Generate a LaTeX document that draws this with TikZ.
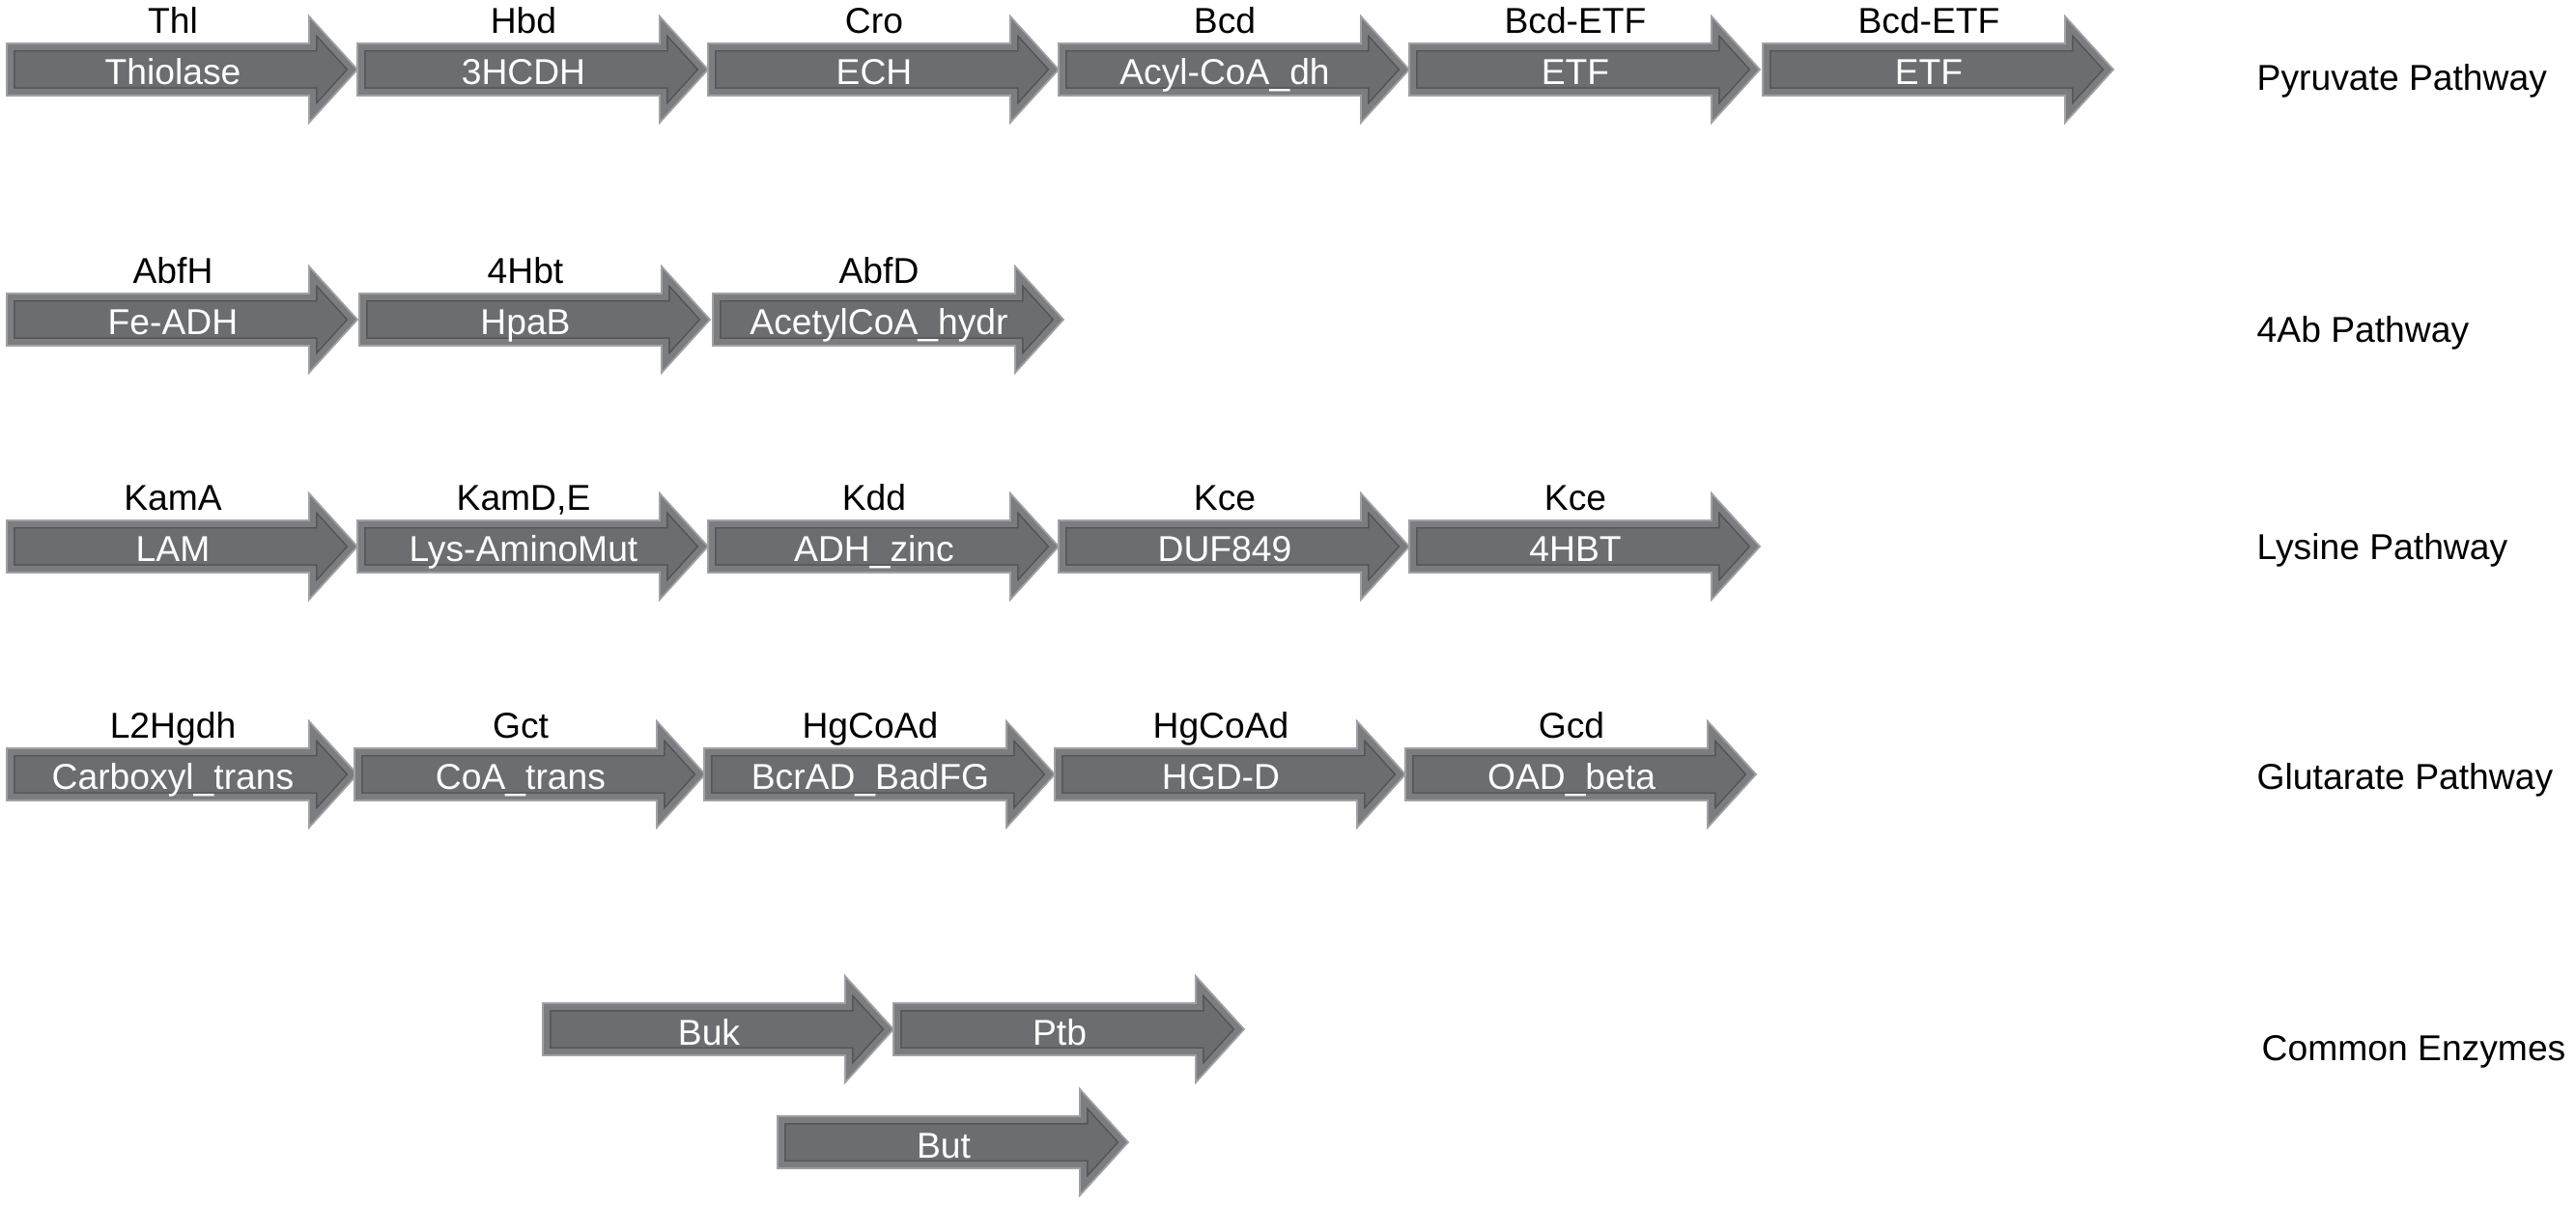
\documentclass[tikz,border=0pt]{standalone}
\usepackage{fontspec}
\setmainfont{Liberation Sans}
\definecolor{genefill}{RGB}{108,109,112}
\definecolor{geneband}{RGB}{124,125,128}
\definecolor{geneline}{RGB}{82,83,86}
\definecolor{geneedge}{RGB}{160,161,164}
\tikzset{
  geneshape/.style={insert path={(0,0.27) -- (3.13,0.27) -- (3.13,0.55) -- (3.63,0)
      -- (3.13,-0.55) -- (3.13,-0.27) -- (0,-0.27) -- cycle}},
  genetext/.style={font=\fontsize{10.6}{12}\selectfont, inner sep=0pt, anchor=base},
  waytext/.style={font=\fontsize{10.6}{12}\selectfont, inner sep=0pt, anchor=base west},
}
\begin{document}
\begin{tikzpicture}
    \useasboundingbox (0,0) rectangle (26.67,-12.48);
    % pathway rows: tail x / y / gene / name / domain
    \foreach \x/\y/\top/\name/\inner in {
        0.07/-0.72/Thl/thl/Thiolase, 3.70/-0.72/Hbd/hbd/3HCDH, 7.33/-0.72/Cro/cro/ECH,
        10.96/-0.72/Bcd/bcd/Acyl-CoA\_dh, 14.59/-0.72/Bcd-ETF/etfa/ETF, 18.25/-0.72/Bcd-ETF/etfb/ETF,
        0.07/-3.31/AbfH/abfh/Fe-ADH, 3.72/-3.31/4Hbt/hbt/HpaB, 7.38/-3.31/AbfD/abfd/AcetylCoA\_hydr,
        0.07/-5.66/KamA/kama/LAM, 3.70/-5.66/{KamD,E}/kamde/Lys-AminoMut, 7.33/-5.66/Kdd/kdd/ADH\_zinc,
        10.96/-5.66/Kce/kcea/DUF849, 14.59/-5.66/Kce/kceb/4HBT,
        0.07/-8.02/L2Hgdh/lhgdh/Carboxyl\_trans, 3.67/-8.02/Gct/gct/CoA\_trans,
        7.29/-8.02/HgCoAd/hgcoada/BcrAD\_BadFG, 10.92/-8.02/HgCoAd/hgcoadb/HGD-D, 14.55/-8.02/Gcd/gcd/OAD\_beta}{
        \begin{scope}[shift={(\x,\y)}]
            \fill[genefill, geneshape];
            \begin{scope}
                \clip[geneshape];
                \draw[geneline, line width=0.17cm, geneshape];
                \draw[geneband, line width=0.14cm, geneshape];
            \end{scope}
            \draw[geneedge, line width=0.5pt, geneshape];
            \node[genetext, white] (\name) at (1.72,-0.16) {\inner};
            \node[genetext] (\name-tag) at (1.72,0.37) {\top};
        \end{scope}}
    % common enzymes
    \foreach \x/\y/\name/\inner in {5.62/-10.66/buk/Buk, 9.25/-10.66/ptb/Ptb, 8.05/-11.83/but/But}{
        \begin{scope}[shift={(\x,\y)}]
            \fill[genefill, geneshape];
            \begin{scope}
                \clip[geneshape];
                \draw[geneline, line width=0.17cm, geneshape];
                \draw[geneband, line width=0.14cm, geneshape];
            \end{scope}
            \draw[geneedge, line width=0.5pt, geneshape];
            \node[genetext, white] (\name) at (1.72,-0.16) {\inner};
        \end{scope}}
    \node[waytext] (pyr) at (23.36,-0.94) {Pyruvate Pathway};
    \node[waytext] (fab) at (23.36,-3.55) {4Ab Pathway};
    \node[waytext] (lys) at (23.36,-5.80) {Lysine Pathway};
    \node[waytext] (glu) at (23.36,-8.18) {Glutarate Pathway};
    \node[waytext] (com) at (23.41,-10.98) {Common Enzymes};
\end{tikzpicture}
\end{document}
